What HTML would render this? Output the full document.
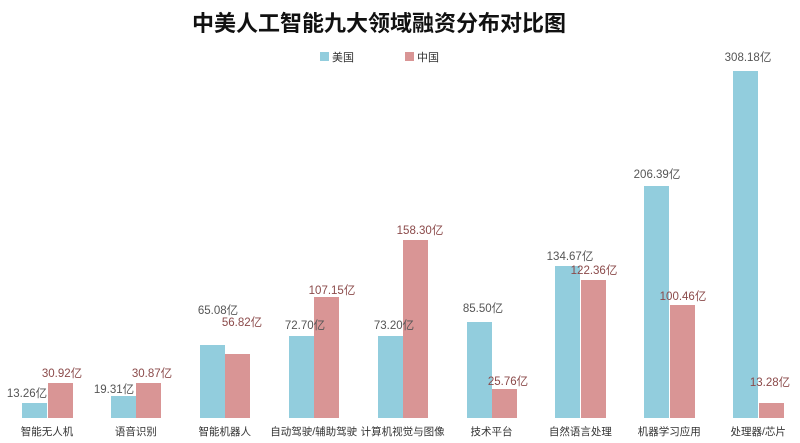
<!DOCTYPE html>
<html><head><meta charset="utf-8"><style>
body{margin:0;width:800px;height:443px;background:#fff;position:relative;overflow:hidden;font-family:"Liberation Sans","Noto Sans CJK SC",sans-serif}
.b{position:absolute;width:25px}
.u{background:#92cddd}.c{background:#d99595}
.t{position:absolute;font-size:11.5px;transform:translate(-50%,-50%);white-space:nowrap}
.tu{color:#555}.tc{color:#8b4a4a}
.cat{position:absolute;top:424px;font-size:10.5px;color:#333;transform:translateX(-50%);white-space:nowrap}
</style></head><body>
<div style="position:absolute;left:0;width:758px;top:6px;text-align:center;font-size:22px;font-weight:bold;color:#111">中美人工智能九大领域融资分布对比图</div>
<div style="position:absolute;left:320px;top:52px;width:9px;height:9px;background:#92cddd"></div>
<div style="position:absolute;left:332px;top:49px;font-size:11px;color:#333">美国</div>
<div style="position:absolute;left:405px;top:52px;width:9px;height:9px;background:#d99595"></div>
<div style="position:absolute;left:417px;top:49px;font-size:11px;color:#333">中国</div>
<div id="c"></div>
<script>
var us=[13.26,19.31,65.08,72.70,73.20,85.50,134.67,206.39,308.18];
var cn=[30.92,30.87,56.82,107.15,158.30,25.76,122.36,100.46,13.28];
var ul=[[27,393],[114,389],[218,310],[305,325],[394,325],[483,308],[570,256],[657,174],[748,57]];
var cl=[[62,373],[152,373],[242,322],[332,290],[420,230],[508,381],[594,270],[683,296],[770,382]];
var cats=["智能无人机","语音识别","智能机器人","自动驾驶/辅助驾驶","计算机视觉与图像","技术平台","自然语言处理","机器学习应用","处理器/芯片"];
var h="",k=1.126,base=418;
for(var i=0;i<9;i++){var x=22+88.9*i;
var hu=us[i]*k,hc=cn[i]*k;
h+='<div class="b u" style="left:'+x+'px;top:'+(base-hu)+'px;height:'+hu+'px"></div>';
h+='<div class="b c" style="left:'+(x+25.5)+'px;top:'+(base-hc)+'px;height:'+hc+'px"></div>';
h+='<div class="t tu" style="left:'+ul[i][0]+'px;top:'+ul[i][1]+'px">'+us[i].toFixed(2)+'亿</div>';
h+='<div class="t tc" style="left:'+cl[i][0]+'px;top:'+cl[i][1]+'px">'+cn[i].toFixed(2)+'亿</div>';
h+='<div class="cat" style="left:'+(x+25)+'px">'+cats[i]+'</div>';}
document.getElementById("c").innerHTML=h;
</script>
</body></html>
